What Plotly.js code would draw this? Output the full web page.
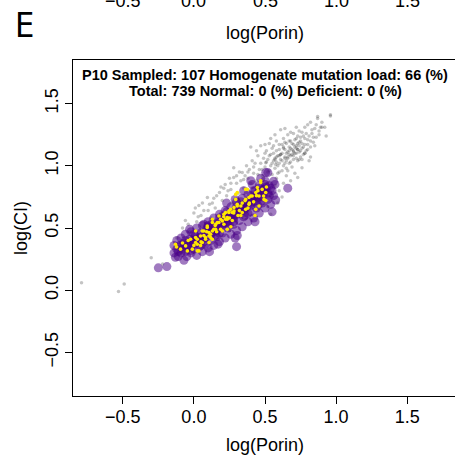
<!DOCTYPE html>
<html>
<head>
<meta charset="utf-8">
<script src="https://cdn.plot.ly/plotly-3.0.1.min.js"></script>
<style>
html, body { margin: 0; padding: 0; overflow: hidden; background: #fff; }
#chart { width: 457px; height: 459px; }
</style>
</head>
<body>
<div id="chart"></div>
<script>
// ---- data (log values) ----
const titleLines = ["P10 Sampled: 107 Homogenate mutation load: 66 (%)", "Total: 739 Normal: 0 (%) Deficient: 0 (%)"];
const xTickVals = [-0.5, 0.0, 0.5, 1.0, 1.5];
const xTickText = ["\u22120.5", "0.0", "0.5", "1.0", "1.5"];
const yTickVals = [-0.5, 0.0, 0.5, 1.0, 1.5];
const yTickText = ["\u22120.5", "0.0", "0.5", "1.0", "1.5"];
const xLabel = "log(Porin)";
const yLabel = "log(CI)";
const panelLetter = "E";

// all fibres (grey)
const greyX = [-0.79,-0.49,-0.53,-0.30,-0.22,
 -0.12,-0.08,-0.06,-0.03,0.00,0.02,0.035,0.05,0.06,0.08,0.095,0.10,0.12,0.13,0.15,0.16,0.18,0.19,0.20,0.21,
 0.22,0.23,0.25,0.26,0.27,0.28,0.28,0.30,0.31,0.32,0.33,0.34,0.35,0.36,0.37,0.38,0.39,0.40,0.40,0.41,0.42,0.43,0.44,0.45,0.46,0.47,0.47,0.48,
 0.49,0.50,0.505,0.51,0.52,0.52,0.53,0.54,0.54,0.55,0.55,0.56,0.56,0.57,0.575,0.58,0.58,0.59,0.59,0.60,0.60,0.61,0.61,0.62,0.62,0.62,0.63,0.63,0.64,0.64,0.65,0.65,0.65,0.66,0.66,0.66,0.67,0.67,0.68,0.68,0.69,0.69,0.70,0.70,0.70,0.71,0.71,0.72,0.72,0.73,0.73,0.73,0.74,0.74,0.75,0.75,0.76,0.76,0.77,0.77,0.78,0.78,0.79,0.80,0.80,0.81,0.82,0.82,0.82,0.83,0.84,0.85,0.86,0.87,0.87,0.88,0.90,0.90,0.92,0.93,0.96,0.96,
 0.54,0.52,0.59,0.55,0.60,0.63,0.57,0.68,0.48,0.62,
 0.00,0.10,0.20,0.30,0.40,-0.10,0.15,0.35,0.25,0.45,
 0.58,0.61,0.64,0.67,0.70,0.73,0.76,0.63,0.66,0.69,0.72,0.57,0.60,0.74,0.78,
 0.50,0.51,0.53,0.55,0.56,0.57,0.58,0.59,0.60,0.61,0.62,0.63,0.64,0.64,0.65,0.66,0.67,0.67,0.68,0.68,0.69,0.70,0.70,0.71,0.71,0.72,0.72,0.73,0.73,0.74,0.74,0.75,0.75,0.76,0.76,0.77,0.78,0.78,0.79,0.80,0.80,0.81,0.82,0.83,0.84,0.85,0.86,0.88,0.89,
 0.60,0.58,0.65,0.53,0.48,0.45,0.42,0.38,0.35,0.30,0.26,0.24,0.19,0.14,0.11,0.07,0.03,0.01,-0.04,0.44,0.50,0.54,0.57,0.68,0.64,0.72];
const greyY = [0.06,0.05,-0.01,0.26,0.21,
 0.42,0.50,0.56,0.47,0.62,0.55,0.68,0.60,0.70,0.52,0.745,0.64,0.58,0.70,0.66,0.76,0.785,0.62,0.72,0.82,
 0.85,0.76,0.90,0.81,0.70,0.905,0.985,0.86,0.78,0.95,0.88,0.945,0.82,0.92,1.00,0.90,0.97,1.15,0.86,1.04,0.94,1.02,0.88,1.08,0.97,1.16,1.02,0.92,
 1.06,0.99,1.025,1.12,0.95,1.05,1.18,1.00,1.09,0.93,1.14,1.04,1.10,0.98,1.01,1.07,1.20,1.08,0.94,1.13,1.02,1.29,1.05,0.96,1.10,1.17,1.00,1.22,1.07,1.13,0.92,1.04,1.18,0.96,1.11,1.25,1.02,1.15,1.08,1.20,0.99,1.13,1.05,1.17,1.26,1.10,0.94,1.14,1.22,0.905,1.04,1.18,1.11,1.28,1.07,1.20,0.985,1.14,1.24,1.09,1.17,1.31,1.12,1.33,1.21,1.04,1.15,1.07,1.35,1.26,1.19,1.30,1.23,1.38,1.395,1.28,1.35,1.31,1.31,1.24,1.41,1.40,
 0.61,0.67,0.70,0.76,0.80,0.86,0.84,0.88,0.80,0.75,
 0.35,0.45,0.55,0.65,0.70,0.30,0.50,0.60,0.48,0.75,
 1.03,1.09,1.06,1.12,1.11,1.13,1.05,1.15,1.07,1.09,1.16,1.05,1.08,1.19,1.10,
 1.10,1.03,1.08,1.02,1.16,1.06,1.12,1.00,1.17,1.09,1.04,1.14,1.02,1.19,1.10,1.06,1.20,1.09,1.14,1.03,1.18,1.12,1.08,1.21,1.15,1.06,1.10,1.24,1.13,1.16,1.05,1.23,1.12,1.18,1.27,1.15,1.22,1.10,1.26,1.17,1.13,1.24,1.20,1.29,1.23,1.16,1.33,1.25,1.31,
 0.95,0.90,0.98,0.96,0.97,0.93,0.99,0.95,0.89,0.92,0.86,0.80,0.83,0.74,0.69,0.64,0.59,0.66,0.53,1.12,1.17,1.22,1.25,1.27,1.30,1.31];

// simulated homogenate fibres (purple)
const purpleX = [-0.25,-0.19,-0.07,-0.13,0.11,0.30,0.43,0.55,0.575,0.66,0.52,0.56,0.305,0.17,0.18,0.10,0.29,0.41,0.505,
 -0.14,-0.14,-0.12,-0.12,-0.11,-0.10,-0.09,-0.09,-0.07,-0.06,-0.06,-0.05,-0.04,-0.03,-0.02,-0.02,
 0.00,0.00,0.01,0.02,0.02,0.04,0.04,0.05,0.06,0.06,0.08,0.08,0.09,0.10,0.10,0.12,0.12,0.13,0.14,0.14,
 0.16,0.16,0.17,0.18,0.18,0.20,0.20,0.21,0.22,0.22,0.24,0.24,0.25,0.26,0.26,0.28,0.28,0.29,0.30,0.30,0.29,
 0.32,0.32,0.33,0.34,0.34,0.36,0.36,0.37,0.38,0.38,0.40,0.40,0.41,0.42,0.42,0.44,0.44,0.45,0.46,0.46,
 0.48,0.48,0.49,0.50,0.50,0.52,0.52,0.53,0.54,0.55,0.56,0.57,0.47,0.40,0.35,0.23,0.07,-0.03,
 -0.11,-0.10,-0.08,-0.07,-0.05,-0.04,-0.02,-0.01,0.00,0.01,0.02,0.03,0.04,0.05,0.06,0.07,0.08,0.09,0.10,0.11,0.12,0.13,0.14,0.15,0.16,0.17,0.18,0.19,0.20,0.21,
 0.22,0.23,0.24,0.25,0.26,0.27,0.28,0.29,0.30,0.31,0.32,0.33,0.34,0.35,0.36,0.37,0.38,0.39,0.40,0.41,0.42,0.43,0.44,0.45,0.46,0.47,0.48,0.49,0.50,0.51,
 0.00,0.05,0.10,0.15,0.20,0.25,0.30,0.35,0.40,0.45,-0.06,-0.02,0.07,0.13,0.18,0.23,0.28,0.33,0.38,0.43,0.48,0.53,0.54,0.50,0.46];
const purpleY = [0.18,0.19,0.24,0.265,0.31,0.35,0.55,0.63,0.725,0.82,0.945,0.875,0.44,0.37,0.58,0.52,0.73,0.85,0.945,
 0.36,0.30,0.40,0.33,0.27,0.36,0.30,0.42,0.38,0.31,0.45,0.27,0.35,0.41,0.30,0.47,
 0.38,0.33,0.44,0.28,0.50,0.40,0.35,0.46,0.31,0.52,0.42,0.37,0.49,0.34,0.55,0.45,0.40,0.51,0.36,0.58,
 0.48,0.43,0.54,0.39,0.61,0.52,0.46,0.58,0.42,0.64,0.55,0.50,0.61,0.45,0.67,0.58,0.53,0.64,0.48,0.71,0.42,
 0.62,0.56,0.68,0.51,0.74,0.65,0.60,0.71,0.55,0.77,0.68,0.63,0.74,0.58,0.80,0.72,0.66,0.78,0.62,0.84,
 0.75,0.70,0.81,0.66,0.88,0.78,0.73,0.84,0.69,0.80,0.76,0.85,0.90,0.88,0.80,0.70,0.53,0.49,
 0.31,0.35,0.33,0.36,0.34,0.38,0.36,0.40,0.37,0.41,0.38,0.42,0.39,0.43,0.41,0.45,0.44,0.47,0.44,0.48,0.46,0.49,0.47,0.51,0.49,0.52,0.51,0.55,0.53,0.56,
 0.54,0.58,0.57,0.60,0.58,0.61,0.60,0.63,0.61,0.65,0.63,0.66,0.65,0.68,0.66,0.70,0.68,0.71,0.70,0.73,0.71,0.75,0.74,0.77,0.75,0.79,0.78,0.81,0.79,0.83,
 0.45,0.36,0.51,0.44,0.59,0.52,0.67,0.59,0.76,0.68,0.40,0.32,0.39,0.54,0.46,0.63,0.55,0.71,0.62,0.80,0.72,0.76,0.82,0.85,0.82];

// sampled fibres (yellow)
const sampledX = [0.47,0.446,0.435,0.458,0.493,0.376,0.364,0.34,0.387,0.33,0.294,0.305,0.282,0.258,0.246,0.27,0.235,0.223,0.20,0.211,
 0.176,0.153,0.153,0.13,0.106,0.094,0.059,0.047,0.024,0.012,0.082,0.118,0.176,0.305,0.41,0.458,0.435,0.505,0.34,0.223,0.13,0.188,
 -0.129,-0.122,-0.058,-0.023,-0.011,0.012,0.024,0.035,0.07,0.082,0.094,0.118,0.165,0.188,0.211,0.246,0.235,0.13,0.059,0.106,-0.046,-0.094,0.012,
 0.48,0.49,0.40,0.364,0.294,0.505,0.47,0.43,0.26,0.20,0.33,0.364,0.387,0.024,0.047,0.13,0.106,0.235,0.305,0.282,
 0.42,0.38,0.31,0.27,0.16,0.05,-0.08,0.00,0.09,0.21,0.36,0.45,0.15,0.32,0.25,0.44,0.39,0.28,0.14,-0.04,0.07,0.51];
const sampledY = [0.88,0.825,0.785,0.757,0.73,0.81,0.73,0.70,0.69,0.677,0.73,0.69,0.664,0.65,0.624,0.624,0.584,0.57,0.557,0.53,
 0.544,0.53,0.49,0.476,0.463,0.504,0.476,0.436,0.41,0.383,0.41,0.423,0.597,0.785,0.757,0.677,0.65,0.785,0.624,0.624,0.57,0.49,
 0.369,0.348,0.356,0.41,0.33,0.423,0.37,0.316,0.476,0.423,0.516,0.45,0.544,0.57,0.61,0.637,0.49,0.544,0.383,0.383,0.316,0.33,0.476,
 0.81,0.757,0.757,0.81,0.77,0.72,0.865,0.60,0.51,0.476,0.60,0.65,0.745,0.316,0.36,0.41,0.436,0.57,0.677,0.637,
 0.71,0.66,0.60,0.56,0.47,0.39,0.38,0.36,0.47,0.59,0.72,0.80,0.52,0.64,0.58,0.76,0.70,0.62,0.49,0.40,0.44,0.83];

// ---- chart ----
const fontFam = "'Liberation Sans', Arial, sans-serif";
const traces = [
  {type: "scatter", mode: "markers", x: greyX, y: greyY, hoverinfo: "skip",
   marker: {size: 3.5, color: "rgba(20,20,20,0.25)", line: {width: 0}}},
  {type: "scatter", mode: "markers", x: purpleX, y: purpleY, hoverinfo: "skip",
   marker: {size: 9, color: "rgba(72,0,135,0.52)", line: {width: 0}}},
  {type: "scatter", mode: "markers", x: sampledX, y: sampledY, hoverinfo: "skip",
   marker: {size: 3.6, color: "#FFE800", line: {width: 0}}}
];

const annotations = [
  {text: panelLetter, xref: "paper", yref: "paper", x: (24 - 73) / 384, y: (396 - 25) / 336,
   xanchor: "center", yanchor: "middle", showarrow: false,
   font: {family: "'Liberation Sans Narrow', 'DejaVu Sans Condensed', sans-serif", size: 34, color: "#000"}},
  {text: xLabel, xref: "paper", yref: "paper", x: 0.5, y: (396 - 33) / 336,
   xanchor: "center", yanchor: "middle", showarrow: false,
   font: {family: fontFam, size: 18, color: "#000"}},
  {text: "<b>" + titleLines[0] + "</b>", xref: "paper", yref: "paper", x: 0.5, y: (396 - 75) / 336,
   xanchor: "center", yanchor: "middle", showarrow: false,
   font: {family: fontFam, size: 14.5, color: "#000"}},
  {text: "<b>" + titleLines[1] + "</b>", xref: "paper", yref: "paper", x: 0.5, y: (396 - 90.5) / 336,
   xanchor: "center", yanchor: "middle", showarrow: false,
   font: {family: fontFam, size: 14.5, color: "#000"}}
];
xTickVals.forEach((v, i) => annotations.push({
  text: xTickText[i], xref: "x", yref: "paper", x: v, y: (396 - 1) / 336,
  xanchor: "center", yanchor: "middle", showarrow: false,
  font: {family: fontFam, size: 18, color: "#000"}}));

const layout = {
  width: 457, height: 459,
  margin: {l: 73, r: 0, t: 60, b: 63, pad: 0},
  paper_bgcolor: "#fff", plot_bgcolor: "#fff",
  showlegend: false,
  font: {family: fontFam, color: "#000"},
  xaxis: {range: [-0.85, 1.85], showgrid: false, zeroline: false,
          showline: true, linecolor: "#000", linewidth: 1, mirror: true,
          ticks: "outside", ticklen: 7, tickcolor: "#000", tickwidth: 1,
          ticklabelstandoff: -3,
          tickvals: xTickVals, ticktext: xTickText,
          tickfont: {family: fontFam, size: 18, color: "#000"},
          title: {text: xLabel, font: {family: fontFam, size: 18, color: "#000"}, standoff: 12},
          automargin: false},
  yaxis: {range: [-0.85, 1.85], showgrid: false, zeroline: false,
          showline: true, linecolor: "#000", linewidth: 1, mirror: true,
          ticks: "outside", ticklen: 7, tickcolor: "#000", tickwidth: 1,
          tickvals: yTickVals, ticktext: yTickText, tickangle: -90,
          tickfont: {family: fontFam, size: 18, color: "#000"},
          title: {text: yLabel, font: {family: fontFam, size: 18, color: "#000"}, standoff: 9},
          automargin: false},
  annotations: annotations
};

Plotly.newPlot("chart", traces, layout, {staticPlot: true, displayModeBar: false});
</script>
</body>
</html>
